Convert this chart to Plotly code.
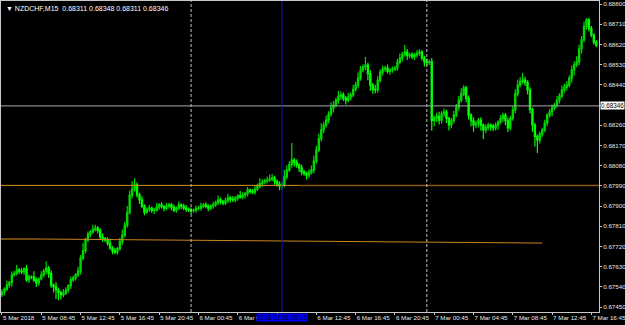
import plotly.graph_objects as go
import pandas as pd

# ---------------- data (prices in points above 0.67000) ----------------
start_time = "2018-03-05 04:45"
first_open_pts = 505
closes_pts = [
    517, 530, 548, 560, 593, 600, 615, 610, 606, 620,
    571, 585, 584, 570, 557, 575, 593, 610, 624, 600,
    548, 540, 526, 515, 504, 512, 526, 545, 571, 580,
    593, 610, 668, 700, 749, 775, 785, 795, 802, 790,
    762, 755, 749, 735, 713, 700, 695, 710, 740, 770,
    815, 870, 949, 975, 994, 950, 927, 900, 873, 885,
    891, 880, 882, 895, 905, 898, 891, 900, 905, 895,
    882, 890, 905, 900, 891, 885, 882, 880, 882, 890,
    891, 900, 905, 898, 891, 900, 905, 915, 927, 920,
    913, 925, 936, 930, 927, 935, 945, 940, 949, 955,
    971, 965, 962, 975, 989, 1000, 1007, 1012, 1016, 1020,
    1025, 1010, 998, 990, 994, 1030, 1060, 1085, 1105, 1095,
    1083, 1070, 1052, 1045, 1038, 1050, 1060, 1100, 1150, 1200,
    1239, 1260, 1283, 1310, 1337, 1350, 1372, 1390, 1395, 1380,
    1372, 1385, 1395, 1420, 1439, 1470, 1506, 1520, 1528, 1490,
    1439, 1420, 1417, 1460, 1497, 1510, 1515, 1500, 1506, 1510,
    1515, 1540, 1559, 1575, 1586, 1570, 1573, 1565, 1573, 1580,
    1586, 1560, 1542, 1540, 1542, 1280, 1292, 1300, 1283, 1310,
    1319, 1290, 1261, 1280, 1305, 1340, 1372, 1400, 1426, 1380,
    1305, 1280, 1261, 1270, 1283, 1260, 1239, 1250, 1261, 1255,
    1248, 1260, 1274, 1290, 1305, 1280, 1248, 1290, 1328, 1400,
    1439, 1455, 1461, 1450, 1417, 1330, 1261, 1210, 1194, 1220,
    1239, 1270, 1305, 1320, 1337, 1350, 1372, 1390, 1417, 1430,
    1439, 1470, 1506, 1530, 1542, 1600, 1640, 1700, 1729, 1690,
    1662, 1630, 1617,
]
upper_wick = [
    12, 8, 20, 6, 15, 10, 22, 9, 14, 7,
    18, 10, 6, 25, 12, 8, 16, 11, 30, 9,
    14, 7, 20, 10, 8, 18, 12, 6, 15, 10,
    9, 20, 14, 35, 10, 12, 8, 22, 15, 9,
    10, 16, 7, 12, 20, 9, 14, 8, 18, 25,
    15, 30, 20, 35, 30, 12, 9, 15, 8, 10,
    14, 7, 10, 18, 9, 12, 6, 15, 10, 8,
    12, 9, 15, 7, 10, 14, 8, 11, 6, 13,
    9, 15, 8, 12, 10, 7, 14, 9, 20, 11,
    8, 12, 18, 9, 15, 10, 7, 22, 12, 9,
    14, 8, 11, 16, 10, 25, 12, 9, 15, 20,
    18, 10, 8, 12, 15, 30, 20, 15, 76, 10,
    12, 8, 15, 10, 9, 14, 20, 25, 18, 22,
    30, 15, 20, 12, 25, 18, 10, 22, 15, 12,
    10, 18, 12, 20, 15, 25, 18, 12, 36, 10,
    14, 9, 20, 18, 12, 15, 10, 16, 8, 12,
    10, 15, 20, 12, 31, 14, 9, 12, 10, 15,
    12, 8, 10, 15, 12, 18, 10, 15, 20, 12,
    15, 10, 8, 12, 20, 15, 18, 25, 12, 10,
    12, 8, 15, 10, 9, 12, 8, 14, 10, 7,
    10, 12, 8, 15, 10, 9, 14, 12, 18, 20,
    25, 20, 32, 15, 10, 12, 8, 10, 9, 12,
    10, 14, 8, 12, 15, 10, 18, 12, 20, 15,
    18, 12, 20, 15, 25, 20, 18, 22, 9, 10,
    12, 8, 10,
]
lower_wick = [
    10, 15, 8, 12, 20, 7, 10, 14, 9, 12,
    8, 14, 10, 9, 18, 12, 7, 10, 15, 20,
    12, 25, 40, 35, 20, 10, 8, 12, 15, 9,
    12, 8, 15, 10, 12, 9, 14, 10, 8, 12,
    10, 14, 9, 12, 8, 15, 10, 12, 9, 14,
    10, 12, 8, 15, 10, 12, 18, 10, 14, 9,
    12, 10, 15, 8, 12, 9, 14, 10, 12, 15,
    10, 12, 8, 14, 10, 12, 9, 15, 10, 12,
    9, 12, 10, 8, 14, 10, 12, 9, 10, 12,
    10, 8, 12, 14, 9, 10, 12, 8, 10, 15,
    12, 10, 9, 12, 8, 10, 14, 10, 12, 9,
    10, 15, 12, 20, 18, 10, 12, 8, 15, 20,
    12, 18, 15, 10, 20, 12, 10, 15, 12, 10,
    12, 15, 10, 14, 12, 20, 10, 15, 18, 12,
    20, 10, 15, 12, 10, 14, 12, 10, 15, 30,
    25, 20, 15, 12, 10, 14, 12, 10, 15, 12,
    10, 12, 8, 15, 10, 20, 12, 10, 15, 12,
    10, 12, 20, 15, 12, 45, 25, 18, 20, 15,
    12, 20, 25, 15, 12, 10, 14, 12, 10, 18,
    20, 25, 30, 15, 20, 25, 40, 15, 12, 20,
    15, 12, 20, 10, 15, 20, 18, 12, 10, 15,
    12, 10, 12, 15, 20, 18, 30, 45, 58, 15,
    12, 10, 15, 12, 20, 10, 12, 15, 10, 12,
    15, 10, 20, 25, 12, 15, 20, 10, 15, 12,
    10, 12, 8,
]

symbol_header = "NZDCHF,M15  0.68311 0.68348 0.68311 0.68346"
bid_price = 0.68346
level_upper = 0.67992
trend_start = ("2018-03-05 08:45", 0.67753)
trend_end = ("2018-03-07 11:45", 0.67735)
left_stub = ("2018-03-05 04:00", "2018-03-05 08:45", 0.67753)
upper_split_time = "2018-03-06 11:00"
day_separators = ["2018-03-06 00:00", "2018-03-07 00:00"]
vline_time = "2018-03-06 09:15"
vline_label = "2018.03.06 09:15"

y_tick_vals = [0.67450, 0.67540, 0.67630, 0.67720, 0.67810, 0.67900, 0.67990,
               0.68080, 0.68170, 0.68260, 0.68350, 0.68440, 0.68530, 0.68620,
               0.68710, 0.68800]
# visible x labels (the vline label box covers the rest of "6 Mar 04:45" and all of "6 Mar 08:45")
x_tick_texts = ["5 Mar 2018", "5 Mar 08:45", "5 Mar 12:45", "5 Mar 16:45",
                "5 Mar 20:45", "6 Mar 00:45", "6 Mar 0", "",
                "6 Mar 12:45", "6 Mar 16:45", "6 Mar 20:45", "7 Mar 00:45",
                "7 Mar 04:45", "7 Mar 08:45", "7 Mar 12:45", "7 Mar 16:45"]

# ---------------- build ----------------
base = 0.67
times = pd.date_range(start_time, periods=len(closes_pts), freq="15min")
opens_pts = [first_open_pts] + closes_pts[:-1]
o = [base + v / 1e5 for v in opens_pts]
c = [base + v / 1e5 for v in closes_pts]
h = [base + (max(a, b) + w) / 1e5 for a, b, w in zip(opens_pts, closes_pts, upper_wick)]
l = [base + (min(a, b) - w) / 1e5 for a, b, w in zip(opens_pts, closes_pts, lower_wick)]

x_tick_vals = [times[i] for i in range(0, len(times), 16)][:len(x_tick_texts)]

# the bid label box hides the 0.68350 label, keep its tick only
y_tick_texts = ["" if abs(v - 0.68350) < 1e-9 else "%.5f" % v for v in y_tick_vals]

FONT = "Liberation Sans"
AX = "#c8c8c8"

fig = go.Figure()
fig.add_trace(go.Candlestick(
    x=times, open=o, high=h, low=l, close=c,
    increasing=dict(line=dict(color="#00d800", width=1.2), fillcolor="#007800"),
    decreasing=dict(line=dict(color="#00ff00", width=1.2), fillcolor="#f0fff0"),
    whiskerwidth=0, showlegend=False, hoverinfo="skip",
))

step = pd.Timedelta(minutes=15)
x_lo = times[0] - 0.4 * step
x_hi = times[0] + 243.1 * step

shapes = []
shapes.append(dict(type="line", xref="paper", x0=0, x1=1, yref="y",
                   y0=bid_price, y1=bid_price, line=dict(color="#a8a8b4", width=1)))
shapes.append(dict(type="line", xref="x", x0=x_lo, x1=upper_split_time, yref="y",
                   y0=level_upper, y1=level_upper, line=dict(color="#d4901e", width=1)))
shapes.append(dict(type="line", xref="x", x0=upper_split_time, x1=x_hi, yref="y",
                   y0=level_upper, y1=level_upper, line=dict(color="#8a5a16", width=1.5)))
shapes.append(dict(type="line", xref="x", x0=left_stub[0], x1=left_stub[1], yref="y",
                   y0=left_stub[2], y1=left_stub[2], line=dict(color="#6e4a12", width=2)))
shapes.append(dict(type="line", xref="x", x0=trend_start[0], x1=trend_end[0], yref="y",
                   y0=trend_start[1], y1=trend_end[1], line=dict(color="#c8841c", width=1)))
for t in day_separators:
    shapes.append(dict(type="line", xref="x", x0=t, x1=t, yref="paper", y0=0, y1=1,
                       line=dict(color="#c0c0c0", width=1, dash="3px,2px")))
shapes.append(dict(type="line", xref="x", x0=vline_time, x1=vline_time, yref="paper",
                   y0=0, y1=1, line=dict(color="#1010d0", width=1)))

annotations = [
    dict(xref="paper", yref="paper", x=0, y=1, xanchor="left", yanchor="top",
         xshift=3, yshift=-2, showarrow=False, text="\u25bc " + symbol_header,
         font=dict(family=FONT, size=7, color="#ffffff")),
    dict(xref="paper", yref="y", x=1, y=bid_price, xanchor="left", yanchor="middle",
         xshift=1, showarrow=False, text="0.68346", bgcolor="#ffffff", borderpad=0,
         font=dict(family=FONT, size=6.3, color="#000000")),
    dict(xref="x", yref="paper", x=vline_time, y=0, xanchor="center", yanchor="top",
         yshift=-1, showarrow=False, text=vline_label, bgcolor="#0000ff", borderpad=0,
         font=dict(family=FONT, size=6.4, color="#000000")),
]

fig.update_layout(
    width=625, height=325,
    margin=dict(l=1, r=26, t=1, b=13, autoexpand=False),
    paper_bgcolor="#000000", plot_bgcolor="#000000",
    shapes=shapes, annotations=annotations,
    xaxis=dict(
        range=[x_lo, x_hi], rangeslider=dict(visible=False),
        showgrid=False, zeroline=False, automargin=False,
        showline=True, linecolor=AX, linewidth=1, mirror=True,
        tickvals=x_tick_vals, ticktext=x_tick_texts, tickangle=0,
        ticks="outside", ticklen=2, tickcolor=AX,
        ticklabelposition="outside right", ticklabeloverflow="allow",
        tickfont=dict(family=FONT, size=6.2, color="#e8e8e8"),
    ),
    yaxis=dict(
        side="right", range=[0.674279, 0.688134], automargin=False,
        showgrid=False, zeroline=False,
        showline=True, linecolor=AX, linewidth=1, mirror=True,
        tickvals=y_tick_vals, ticktext=y_tick_texts,
        ticks="outside", ticklen=2, tickcolor=AX, ticklabelstandoff=0,
        ticklabeloverflow="allow",
        tickfont=dict(family=FONT, size=6.2, color="#e8e8e8"),
    ),
)

fig.write_html("out.html")
